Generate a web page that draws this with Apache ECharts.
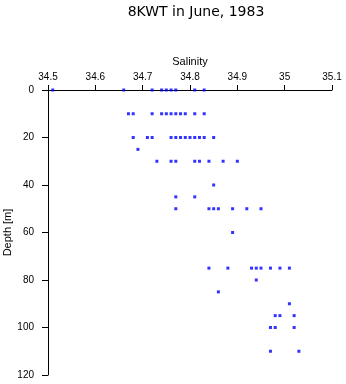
<!DOCTYPE html>
<html><head><meta charset="utf-8">
<script src="https://cdn.jsdelivr.net/npm/echarts@6/dist/echarts.min.js"></script>
<style>html,body{margin:0;padding:0;background:#fff}#c{width:346px;height:384px}</style>
</head><body><div id="c"></div>
<script>
var title = '8KWT in June, 1983';
var depths = [0,10,20,25,30,40,45,50,60,75,80,85,90,95,100,110];
var salinity = [
  [34.51,34.66,34.72,34.74,34.75,34.76,34.77,34.81,34.83],
  [34.67,34.68,34.72,34.74,34.75,34.76,34.77,34.78,34.79,34.81,34.83],
  [34.68,34.71,34.72,34.76,34.77,34.78,34.79,34.80,34.81,34.82,34.83,34.85],
  [34.69],
  [34.73,34.76,34.77,34.81,34.82,34.84,34.87,34.90],
  [34.85],
  [34.77,34.81],
  [34.77,34.84,34.85,34.86,34.89,34.92,34.95],
  [34.89],
  [34.84,34.88,34.93,34.94,34.95,34.97,34.99,35.01],
  [34.94],
  [34.86],
  [35.01],
  [34.98,34.99,35.02],
  [34.97,34.98,35.02],
  [34.97,35.03]
];
var xTicks = {min:34.5, max:35.1, step:0.1};
var yTicks = {min:0, max:120, step:20};

var pts = [];
depths.forEach(function(d,i){ salinity[i].forEach(function(s){ pts.push([s,d]); }); });

var chart = echarts.init(document.getElementById('c'));
var font = 'Liberation Sans, Arial, sans-serif';
chart.setOption({
  animation:false,
  title:{text:title, left:191, top:0, textAlign:'center',
    textStyle:{fontFamily:'DejaVu Sans', fontSize:14, fontWeight:'normal', color:'#000'}},
  grid:{left:48, top:90, right:14, bottom:9, containLabel:false, outerBoundsMode:'none'},
  xAxis:{type:'value', position:'top', min:xTicks.min, max:xTicks.max, interval:xTicks.step,
    name:'Salinity', nameLocation:'middle', nameGap:23, nameMoveOverlap:false,
    nameTextStyle:{fontFamily:font, fontSize:11, color:'#000'},
    axisLine:{show:true, lineStyle:{color:'#000', width:1}},
    axisTick:{show:true, length:5, lineStyle:{color:'#000'}},
    axisLabel:{fontFamily:font, fontSize:10, color:'#000', margin:8,
      formatter:function(v){ return String(Math.round(v*10)/10); }},
    splitLine:{show:false}},
  yAxis:{type:'value', inverse:true, min:yTicks.min, max:yTicks.max, interval:yTicks.step,
    name:'Depth [m]', nameLocation:'middle', nameGap:35, nameRotate:90, nameMoveOverlap:false,
    nameTextStyle:{fontFamily:font, fontSize:11, color:'#000'},
    axisLine:{show:true, lineStyle:{color:'#000', width:1}},
    axisTick:{show:true, length:6, lineStyle:{color:'#000'}},
    axisLabel:{fontFamily:font, fontSize:10, color:'#000', margin:14},
    splitLine:{show:false}},
  series:[{type:'scatter', data:pts, symbol:'rect', symbolSize:3,
    itemStyle:{color:'#0000ff'}}]
});
</script></body></html>
